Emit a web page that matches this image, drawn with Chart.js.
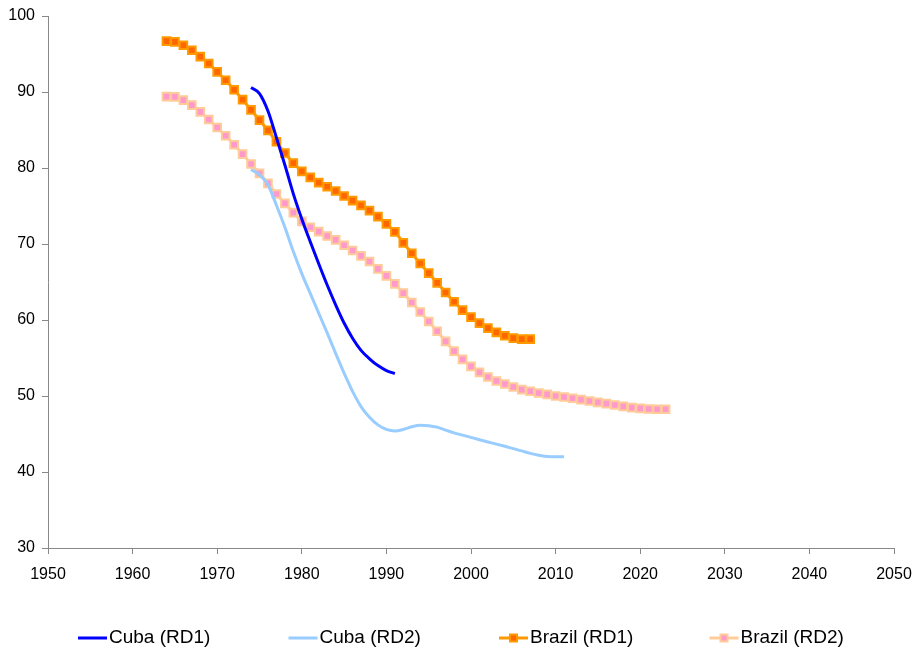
<!DOCTYPE html>
<html>
<head>
<meta charset="utf-8">
<style>
  html, body { margin: 0; padding: 0; background: #ffffff; }
  #wrap { width: 913px; height: 651px; position: relative; }
</style>
<script src="https://cdn.jsdelivr.net/npm/chart.js@4/dist/chart.umd.min.js"></script>
</head>
<body>
<div id="wrap"><canvas id="c" width="913" height="651"></canvas></div>
<script>
// ---- data ----
const seriesLabels = ["Cuba (RD1)", "Cuba (RD2)", "Brazil (RD1)", "Brazil (RD2)"];

const cubaRD1Start = 1974;
const cubaRD1 = [90.6, 89.8, 87.5, 84.0, 80.4, 76.6, 73.3, 70.3, 67.4, 64.6,
                 62.0, 59.6, 57.6, 56.0, 54.9, 54.0, 53.35, 52.95];

const cubaRD2Start = 1974;
const cubaRD2 = [79.8, 79.1, 77.8, 75.1, 72.2, 69.0, 66.1, 63.5, 60.9, 58.3,
                 55.6, 53.0, 50.6, 48.6, 47.2, 46.2, 45.6, 45.4, 45.6, 45.95,
                 46.15, 46.1, 45.9, 45.5, 45.15, 44.85, 44.55, 44.25, 43.95, 43.67,
                 43.38, 43.08, 42.78, 42.45, 42.2, 42.05, 42.0, 42.0];

const brazilRD1Start = 1964;
const brazilRD1 = [96.7, 96.6, 96.15, 95.5, 94.65, 93.75, 92.65, 91.55, 90.3, 89.0,
                   87.65, 86.3, 84.95, 83.45, 81.97, 80.65, 79.55, 78.76, 78.07, 77.54,
                   76.98, 76.32, 75.7, 75.08, 74.39, 73.6, 72.64, 71.6, 70.15, 68.78,
                   67.43, 66.16, 64.89, 63.62, 62.4, 61.3, 60.38, 59.59, 58.93, 58.37,
                   57.93, 57.62, 57.49, 57.49];

const brazilRD2Start = 1964;
const brazilRD2 = [89.4, 89.36, 88.93, 88.27, 87.39, 86.38, 85.33, 84.24, 83.06, 81.83,
                   80.53, 79.29, 77.98, 76.58, 75.35, 74.13, 72.98, 72.2, 71.63, 71.06,
                   70.54, 69.83, 69.14, 68.44, 67.69, 66.73, 65.8, 64.76, 63.53, 62.31,
                   61.06, 59.81, 58.52, 57.18, 55.91, 54.82, 53.9, 53.11, 52.5, 51.97,
                   51.58, 51.18, 50.84, 50.62, 50.4, 50.22, 50.0, 49.87, 49.7, 49.53,
                   49.34, 49.17, 49.0, 48.81, 48.64, 48.47, 48.38, 48.29, 48.25, 48.25];

const xMin = 1950, xMax = 2050, xStep = 10;
const yMin = 30, yMax = 100, yStep = 10;

// ---- helpers ----
function toPoints(start, vals) { return vals.map((v, i) => ({ x: start + i, y: v })); }

const FONT = '"Liberation Sans", Arial, Helvetica, sans-serif';

const datasets = [
  { label: seriesLabels[0], data: toPoints(cubaRD1Start, cubaRD1),
    borderColor: '#0000FF', borderWidth: 3, pointRadius: 0 },
  { label: seriesLabels[1], data: toPoints(cubaRD2Start, cubaRD2),
    borderColor: '#99CCFF', borderWidth: 3, pointRadius: 0 },
  { label: seriesLabels[2], data: toPoints(brazilRD1Start, brazilRD1),
    borderColor: '#FF9900', borderWidth: 3, pointRadius: 5.4, pointStyle: 'rect',
    pointBackgroundColor: '#FF6600', pointBorderColor: '#FF9900', pointBorderWidth: 2 },
  { label: seriesLabels[3], data: toPoints(brazilRD2Start, brazilRD2),
    borderColor: '#FFCC99', borderWidth: 3, pointRadius: 5.4, pointStyle: 'rect',
    pointBackgroundColor: '#FF99CC', pointBorderColor: '#FFCC99', pointBorderWidth: 2 }
];

// custom bottom legend (evenly spaced entries like the reference)
const bottomLegend = {
  id: 'bottomLegend',
  afterDraw(chart) {
    const ctx = chart.ctx;
    const y = 638;
    ctx.save();
    chart.data.datasets.forEach((ds, i) => {
      const x0 = 78 + i * 210.5;
      ctx.strokeStyle = ds.borderColor;
      ctx.lineWidth = 3;
      ctx.beginPath();
      ctx.moveTo(x0, y);
      ctx.lineTo(x0 + 29, y);
      ctx.stroke();
      if (ds.pointRadius > 0) {
        const s = 7;
        ctx.fillStyle = ds.pointBackgroundColor;
        ctx.strokeStyle = ds.pointBorderColor;
        ctx.lineWidth = 2;
        ctx.fillRect(x0 + 14.5 - s / 2, y - s / 2, s, s);
        ctx.strokeRect(x0 + 14.5 - s / 2, y - s / 2, s, s);
      }
      ctx.fillStyle = '#000';
      ctx.font = '19px ' + FONT;
      ctx.textBaseline = 'middle';
      ctx.textAlign = 'left';
      ctx.fillText(ds.label, x0 + 31, y);
    });
    ctx.restore();
  }
};

new Chart(document.getElementById('c'), {
  type: 'line',
  data: { datasets },
  plugins: [bottomLegend],
  options: {
    responsive: false,
    animation: false,
    layout: { padding: { top: 16, right: 19, bottom: 0, left: 0 } },
    elements: { line: { tension: 0.4, cubicInterpolationMode: 'monotone', fill: false } },
    plugins: { legend: { display: false }, tooltip: { enabled: false } },
    scales: {
      x: {
        type: 'linear', min: xMin, max: xMax,
        afterFit(scale) { scale.height = 103; scale.paddingRight = 0; scale.paddingLeft = 0; },
        ticks: { stepSize: xStep, color: '#000', padding: 11,
                 font: { family: FONT, size: 16 }, callback: v => String(v), maxRotation: 0 },
        grid: { drawOnChartArea: false, drawTicks: true, tickLength: 6, color: '#888' },
        border: { color: '#888', width: 1 }
      },
      y: {
        min: yMin, max: yMax,
        afterFit(scale) { scale.width = 48; scale.paddingTop = 0; scale.paddingBottom = 0; },
        ticks: { stepSize: yStep, color: '#000', padding: 7,
                 font: { family: FONT, size: 16 } },
        grid: { drawOnChartArea: false, drawTicks: true, tickLength: 6, color: '#888' },
        border: { color: '#888', width: 1 }
      }
    }
  }
});
</script>
</body>
</html>
